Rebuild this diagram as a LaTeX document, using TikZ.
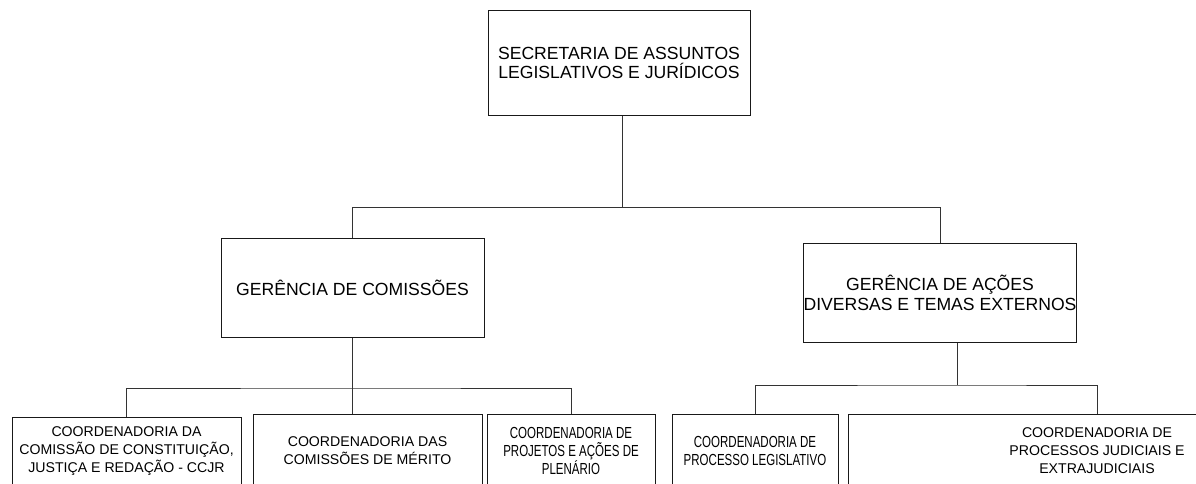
\documentclass[tikz,border=0pt]{standalone}
\usepackage{fontspec}
\setmainfont{Liberation Sans}
\newfontfamily\narrowsans{Liberation Sans}[FakeStretch=0.72]
\begin{document}
\begin{tikzpicture}[x=0.75pt,y=-0.75pt,
  box/.style={draw=black!90, line width=0.75pt, inner sep=0pt, align=center, fill=white},
  bigbox/.style={box, font=\fontsize{13.2}{14.8}\selectfont},
  smallbox/.style={box, font=\fontsize{10.6}{13.5}\selectfont},
  narrowbox/.style={box, font=\narrowsans\fontsize{12}{13.5}\selectfont},
  conn/.style={draw=black!80, line width=0.75pt}]
\clip (0,0) rectangle (1196,483);
\fill[white] (0,0) rectangle (1196,483);
% nodes
\node[bigbox, minimum width=196.5pt, minimum height=78.75pt] (sec) at (619,63)
  {SECRETARIA DE ASSUNTOS\\LEGISLATIVOS E JURÍDICOS};
\node[bigbox, minimum width=197.25pt, minimum height=74.25pt] (gc) at (352.5,287.5)
  {GERÊNCIA DE COMISSÕES};
\node[bigbox, minimum width=198pt, minimum height=74.25pt] (ga) at (940,292.5)
  {GERÊNCIA DE AÇÕES\\DIVERSAS E TEMAS EXTERNOS};
\node[smallbox, minimum width=171.75pt, minimum height=51pt] (c1) at (126.5,451)
  {COORDENADORIA DA\\COMISSÃO DE CONSTITUIÇÃO,\\JUSTIÇA E REDAÇÃO - CCJR};
\node[smallbox, minimum width=171.75pt, minimum height=55.5pt] (c2) at (367.5,451)
  {COORDENADORIA DAS\\COMISSÕES DE MÉRITO};
\node[narrowbox, minimum width=126pt, minimum height=55.5pt] (c3) at (571,451)
  {COORDENADORIA DE\\PROJETOS E AÇÕES DE\\PLENÁRIO};
\node[narrowbox, minimum width=124.5pt, minimum height=55.5pt] (c4) at (755,451)
  {COORDENADORIA DE\\PROCESSO LEGISLATIVO};
\node[smallbox, minimum width=373.5pt, minimum height=55.5pt] (c5) at (1097,451)
  {COORDENADORIA DE\\PROCESSOS JUDICIAIS E\\EXTRAJUDICIAIS};
% junctions
\coordinate (j1) at (622,207);
\coordinate (j2) at (352.5,388);
\coordinate (j3) at (957,385);
% connectors
\draw[conn] (sec.south -| j1) -- (j1);
\draw[conn] (gc.north) -- (gc.north |- j1) -- (ga.north |- j1) -- (ga.north);
\draw[conn] (gc.south) -- (gc.south |- c2.north);
\draw[conn] (c1.north) |- (j2) -- (c3.north |- j2) -- (c3.north);
\draw[conn] (ga.south -| j3) -- (j3);
\draw[conn] (c4.north) |- (j3) -| (c5.north);
\end{tikzpicture}
\end{document}
